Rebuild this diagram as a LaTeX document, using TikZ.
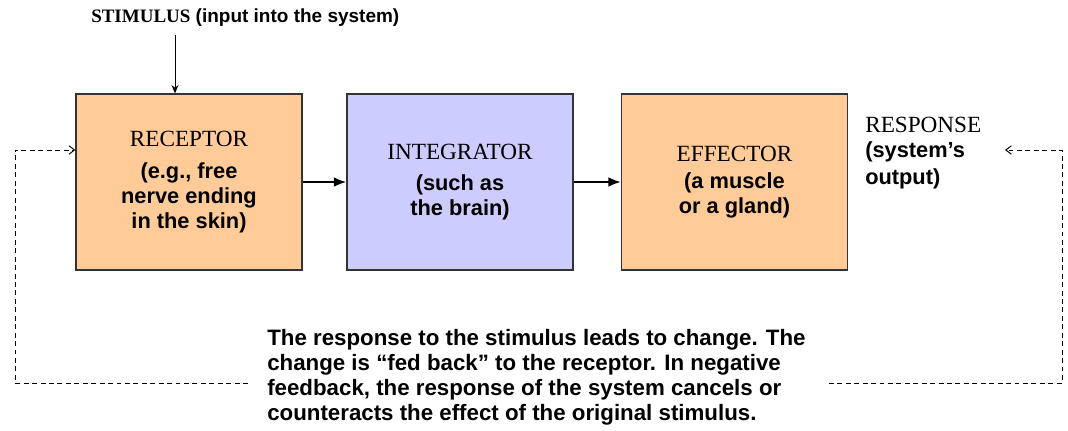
\documentclass[tikz,border=0pt]{standalone}
\usepackage{fontspec}
\setmainfont{Liberation Serif}
\setsansfont{Liberation Sans}
\usetikzlibrary{arrows.meta}

\newcommand{\titlefont}{\fontsize{16.5}{20}\selectfont\rmfamily\mdseries}
\newcommand{\bodyfont}{\fontsize{15.5}{17.6}\selectfont\sffamily\bfseries}

\begin{document}
\begin{tikzpicture}[x=0.025cm, y=-0.025cm,
    box/.style={draw=black!80, line width=0.8pt, minimum width=5.65cm,
                minimum height=4.4cm, align=center, inner sep=0pt, font=\bodyfont},
    flow/.style={line width=1.5pt, -{Latex[length=9pt,width=7pt]}},
    fb/.style={line width=0.7pt, dash pattern=on 3.5pt off 2.5pt,
               -{Straight Barb[length=4pt,width=6pt]}}]

\def\yA{182}  
\def\yF{383}  

\useasboundingbox (0,0) rectangle (1068,430);

% boxes
\node[box, fill={rgb,255:red,255;green,204;blue,153}] (receptor) at (189,\yA)
    {\titlefont RECEPTOR\\[5pt]
     (e.g., free\\nerve ending\\in the skin)};
\node[box, fill={rgb,255:red,204;green,204;blue,255}] (integrator) at (460,\yA)
    {\titlefont INTEGRATOR\\[5pt]
     (such as\\the brain)};
\node[box, fill={rgb,255:red,255;green,204;blue,153}] (effector) at (734.5,\yA)
    {\titlefont EFFECTOR\\[2pt]
     (a muscle\\or a gland)};

% labels
\node[anchor=west, inner sep=0pt, font=\fontsize{13.5}{16}\selectfont\sffamily\bfseries]
    (stimulus) at (91,18) {{\rmfamily STIMULUS} (input into the system)};
\node[anchor=west, inner sep=0pt, align=left, font=\bodyfont] (response) at (865,153)
    {\titlefont RESPONSE\\
     (system's\\[2pt]output)};
\node[anchor=north west, inner sep=0pt, align=left,
      font=\fontsize{15.85}{17.7}\selectfont\sffamily\bfseries] (note) at (267,329)
    {The response to the stimulus leads to change. The\\
     change is “fed back” to the receptor. In negative\\
     feedback, the response of the system cancels or\\
     counteracts the effect of the original stimulus.};

\coordinate (fbL) at (15,\yF);
\coordinate (fbR) at (1062,\yF);
\coordinate (fbIn) at (1005,150);

% arrows
\draw[line width=0.7pt, -{Stealth[length=6pt,width=5pt]}]
    ([xshift=-0.35cm]receptor.north |- stimulus.south) ++(0,8) -- ([xshift=-0.35cm]receptor.north);
\draw[flow] (receptor) -- (integrator);
\draw[flow] (integrator) -- (effector);

% feedback loop
\draw[fb] ([xshift=-0.475cm]note.west |- fbL) -- (fbL) |- ([yshift=0.8cm]receptor.west);
\draw[fb] ([xshift=0.575cm]note.east |- fbR) -- (fbR) |- (fbIn);

\end{tikzpicture}
\end{document}
